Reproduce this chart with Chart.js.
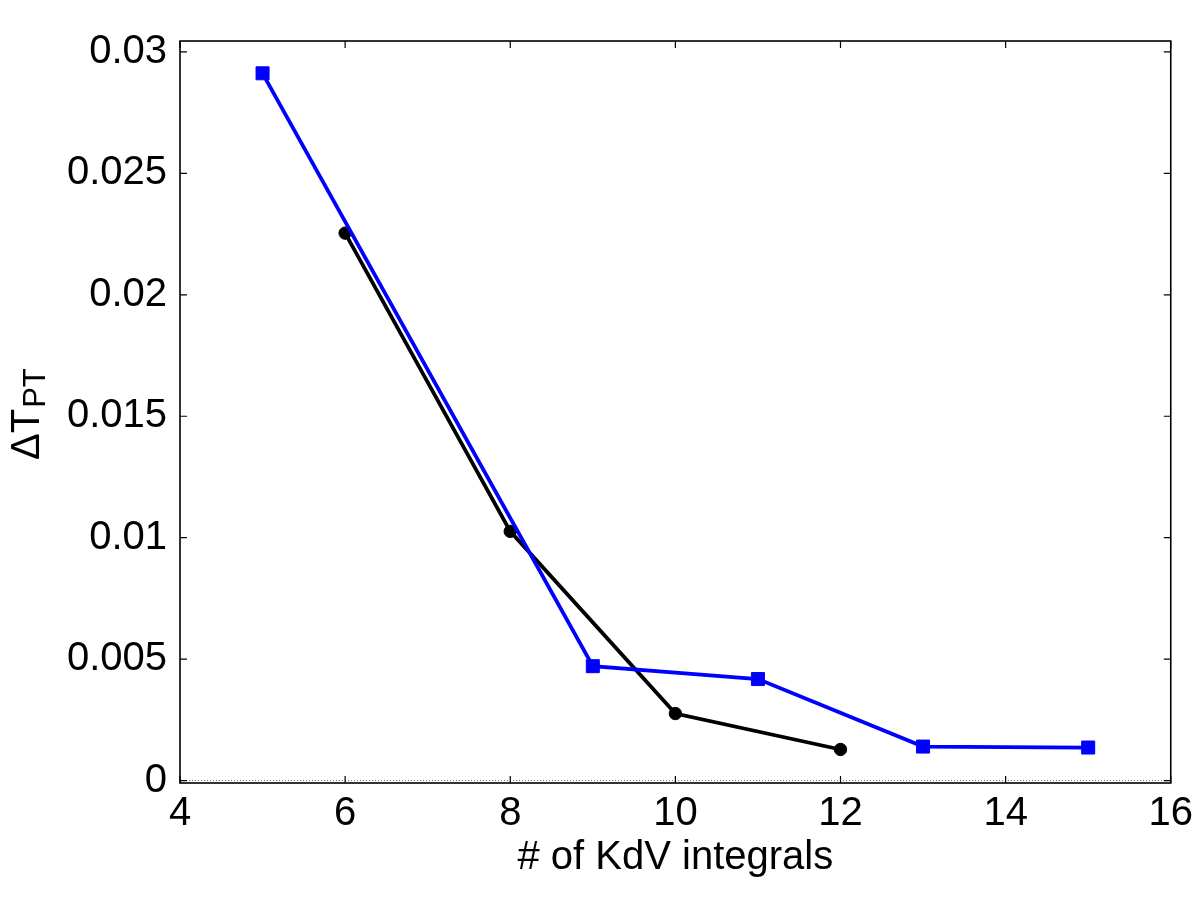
<!DOCTYPE html>
<html lang="en">
<head>
    <meta charset="UTF-8">
    <title>Delta T_PT vs number of KdV integrals</title>
    <script src="https://cdn.jsdelivr.net/npm/chart.js"></script>
    <style>
        body {
            margin: 0;
            background: #ffffff;
        }
        #wrap {
            width: 1200px;
            height: 900px;
        }
    </style>
</head>
<body>
    <div id="wrap">
        <canvas id="ptChart" width="1200" height="900"></canvas>
    </div>

    <script>
        // data
        const blueX = [5, 9, 11, 13, 15];
        const blueY = [0.02912, 0.00471, 0.00418, 0.00140, 0.00136];
        const blackX = [6, 8, 10, 12];
        const blackY = [0.02254, 0.01026, 0.00276, 0.00128];
        const yTicks = [0, 0.005, 0.01, 0.015, 0.02, 0.025, 0.03];
        const xTitle = "# of KdV integrals";

        const FONT = "'Liberation Sans', Arial, sans-serif";
        const toPoints = (xs, ys) => xs.map((x, i) => ({ x: x, y: ys[i] }));

        // box, inward ticks on all sides, dotted zero line, y title with subscript
        const framePlugin = {
            id: "frame",
            beforeDatasetsDraw(chart) {
                const { ctx, chartArea: a, scales } = chart;
                const y0 = scales.y.getPixelForValue(0);
                ctx.save();
                ctx.strokeStyle = "#777";
                ctx.lineWidth = 1;
                ctx.setLineDash([1, 2]);
                ctx.beginPath();
                ctx.moveTo(a.left, y0);
                ctx.lineTo(a.right, y0);
                ctx.stroke();
                ctx.restore();
            },
            afterDraw(chart) {
                const { ctx, chartArea: a, scales } = chart;
                const len = 7;
                ctx.save();
                ctx.strokeStyle = "#000";
                ctx.lineWidth = 1.6;
                ctx.strokeRect(a.left, a.top, a.right - a.left, a.bottom - a.top);

                ctx.lineWidth = 1.2;
                ctx.beginPath();
                scales.x.ticks.forEach(t => {
                    const px = scales.x.getPixelForValue(t.value);
                    ctx.moveTo(px, a.bottom);
                    ctx.lineTo(px, a.bottom - len);
                    ctx.moveTo(px, a.top);
                    ctx.lineTo(px, a.top + len);
                });
                scales.y.ticks.forEach(t => {
                    const py = scales.y.getPixelForValue(t.value);
                    ctx.moveTo(a.left, py);
                    ctx.lineTo(a.left + len, py);
                    ctx.moveTo(a.right, py);
                    ctx.lineTo(a.right - len, py);
                });
                ctx.stroke();

                // y axis title: ΔT with subscript PT
                ctx.fillStyle = "#000";
                ctx.textAlign = "left";
                ctx.textBaseline = "alphabetic";
                ctx.translate(39, 460);
                ctx.rotate(-Math.PI / 2);
                ctx.font = "40px " + FONT;
                ctx.fillText("ΔT", 0, 0);
                const w = ctx.measureText("ΔT").width;
                ctx.font = "31px " + FONT;
                ctx.fillText("PT", w + 1, 6);
                ctx.restore();
            }
        };

        const ctx = document.getElementById("ptChart").getContext("2d");

        new Chart(ctx, {
            type: "scatter",
            data: {
                datasets: [
                    {
                        label: "blue",
                        data: toPoints(blueX, blueY),
                        showLine: true,
                        borderColor: "#0000ff",
                        backgroundColor: "#0000ff",
                        borderWidth: 3.8,
                        pointStyle: "rect",
                        pointRadius: 9.2,
                        pointBorderWidth: 1
                    },
                    {
                        label: "black",
                        data: toPoints(blackX, blackY),
                        showLine: true,
                        borderColor: "#000000",
                        backgroundColor: "#000000",
                        borderWidth: 3.8,
                        pointStyle: "circle",
                        pointRadius: 6.2,
                        pointBorderWidth: 1
                    }
                ]
            },
            options: {
                responsive: false,
                animation: false,
                devicePixelRatio: 1,
                layout: {
                    padding: { left: 0, top: 41, right: 28, bottom: 0 }
                },
                plugins: {
                    legend: { display: false },
                    tooltip: { enabled: false }
                },
                scales: {
                    x: {
                        type: "linear",
                        min: 4,
                        max: 16,
                        grid: { display: false, drawTicks: false },
                        border: { display: false },
                        ticks: {
                            stepSize: 2,
                            padding: 7,
                            color: "#000",
                            maxRotation: 0,
                            font: { family: FONT, size: 40 }
                        },
                        title: {
                            display: true,
                            text: xTitle,
                            color: "#000",
                            padding: { top: 0, bottom: 18 },
                            font: { family: FONT, size: 40 }
                        },
                        afterFit(scale) {
                            scale.height = 117;
                        }
                    },
                    y: {
                        min: -0.0001,
                        max: 0.03045,
                        grid: { display: false, drawTicks: false },
                        border: { display: false },
                        afterBuildTicks(scale) {
                            scale.ticks = yTicks.map(v => ({ value: v }));
                        },
                        ticks: {
                            padding: 13,
                            color: "#000",
                            font: { family: FONT, size: 40 },
                            callback: v => Number(v.toFixed(4)).toString()
                        },
                        afterFit(scale) {
                            scale.width = 180;
                        }
                    }
                }
            },
            plugins: [framePlugin]
        });
    </script>
</body>
</html>
